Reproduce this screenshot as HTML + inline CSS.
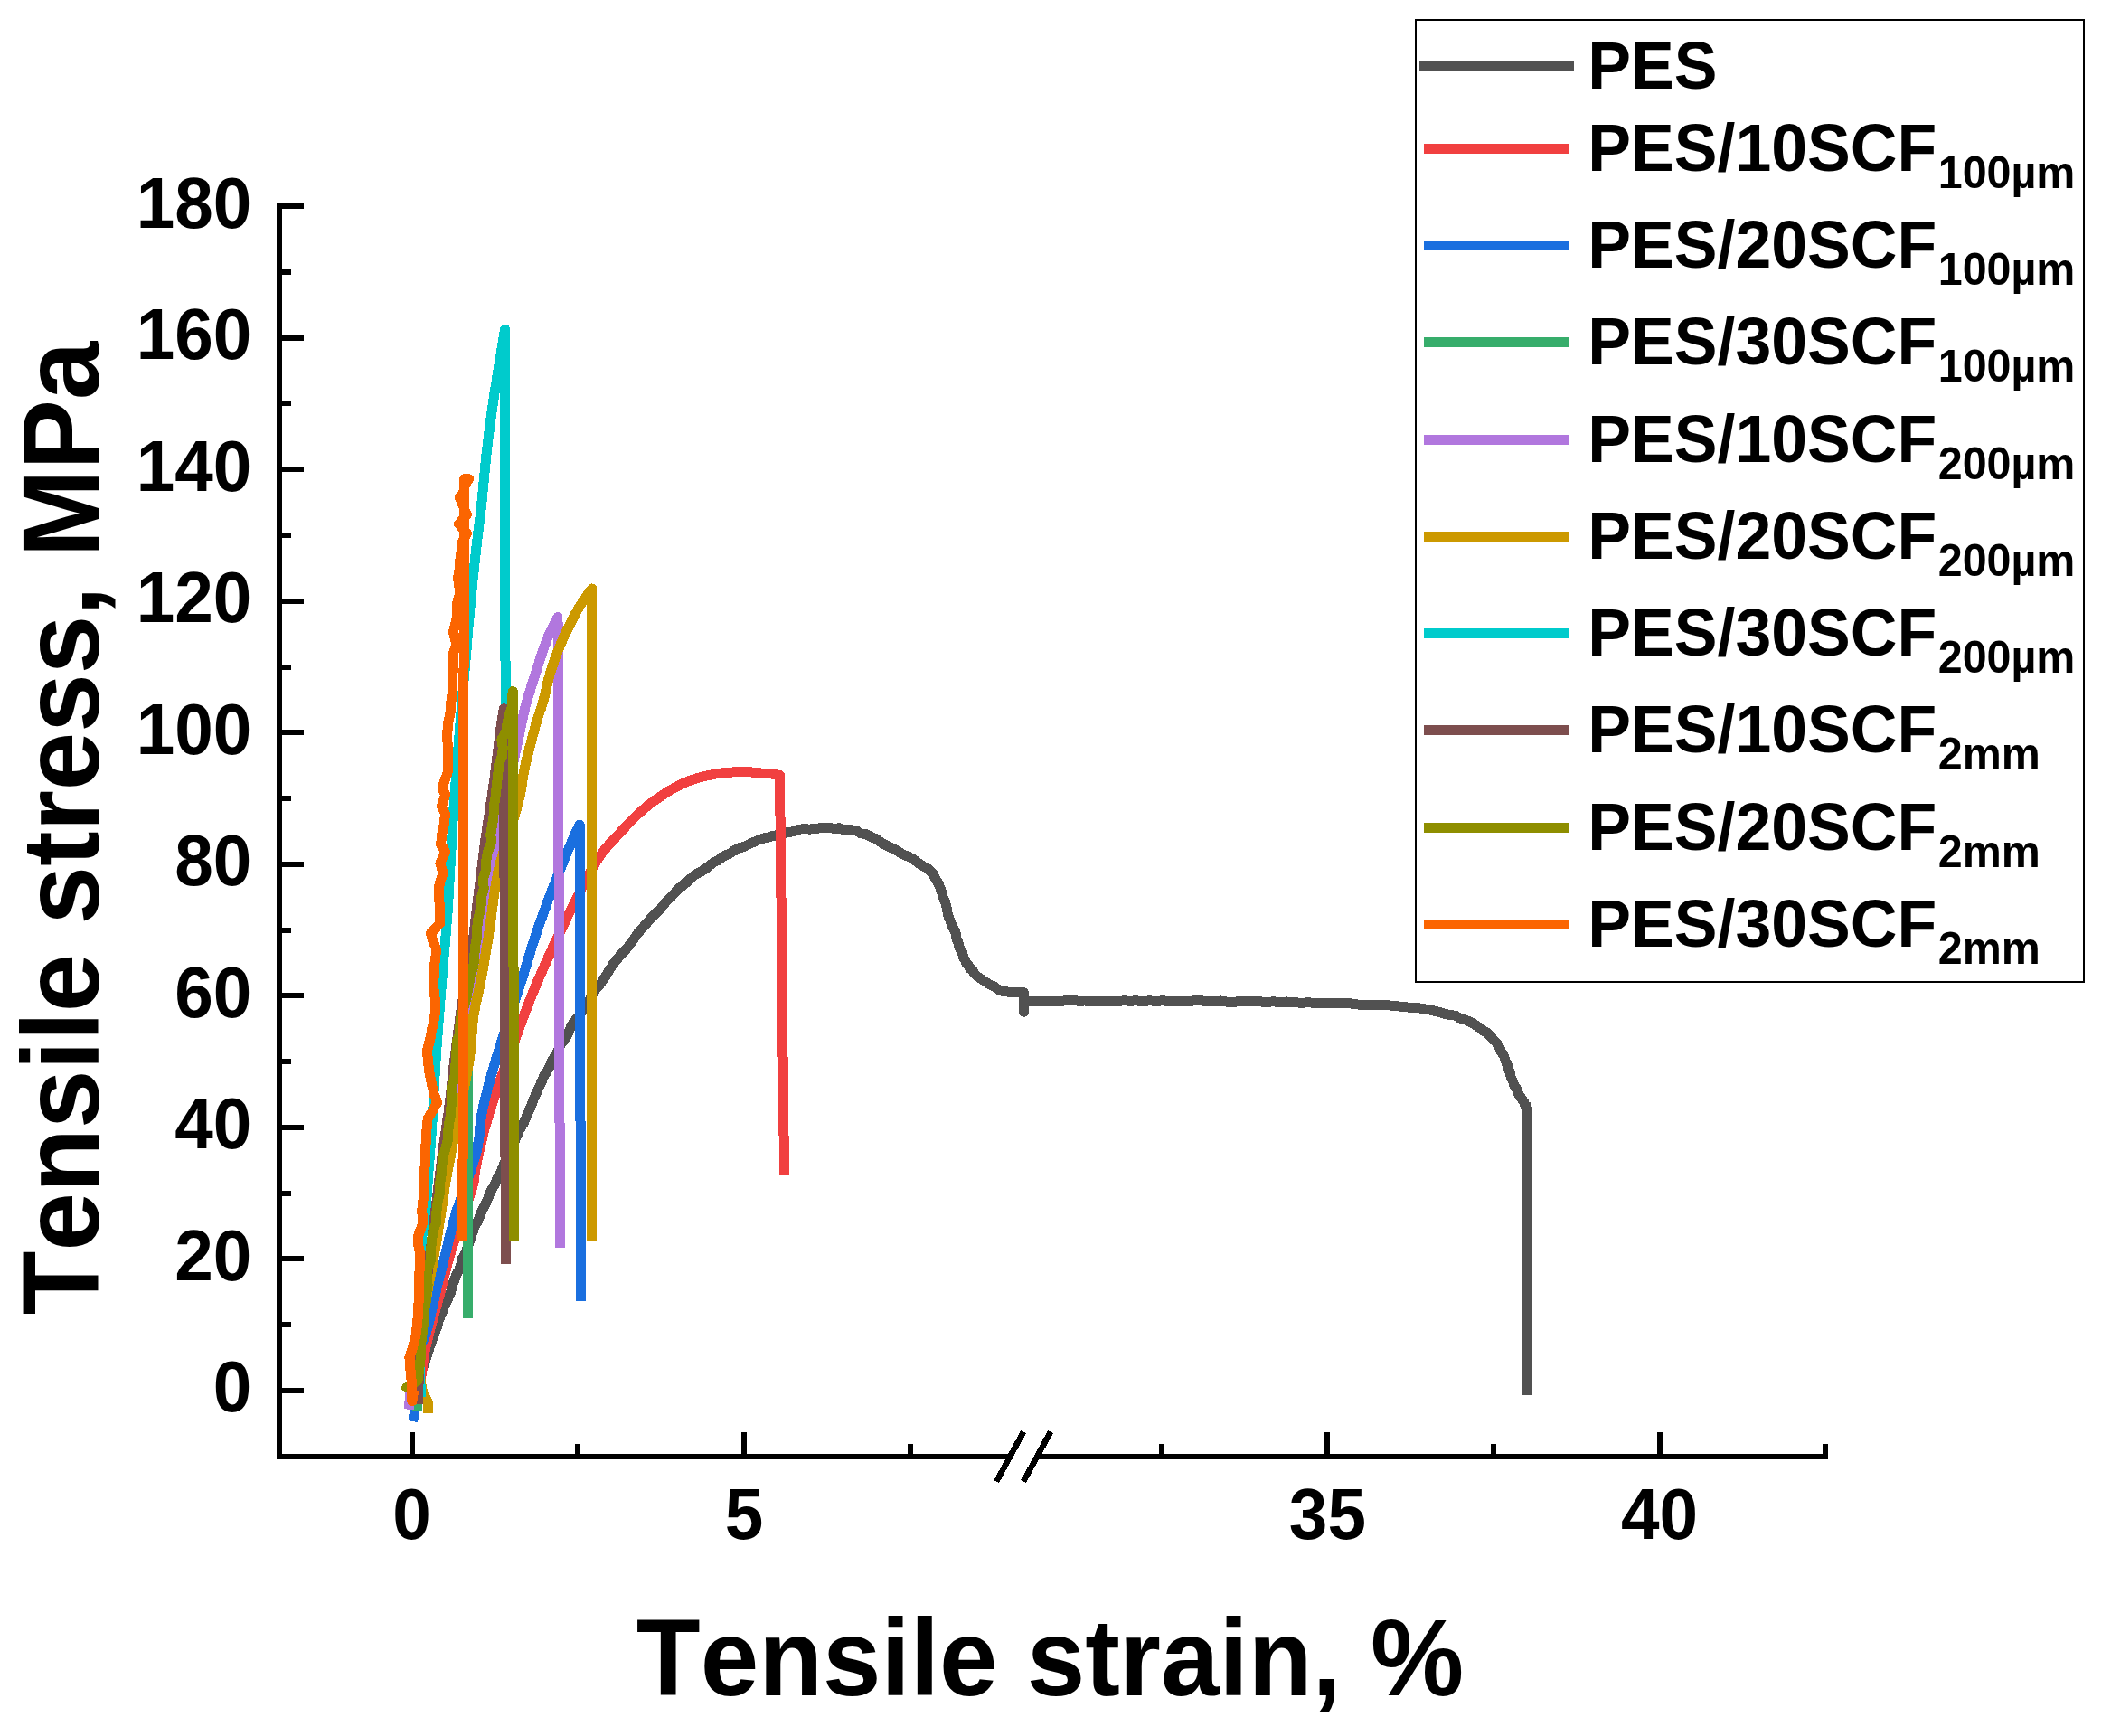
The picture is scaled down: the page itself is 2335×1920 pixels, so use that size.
<!DOCTYPE html>
<html lang="en"><head><meta charset="utf-8"><title>Tensile stress vs tensile strain</title>
<style>html,body{margin:0;padding:0;background:#fff}body{width:2335px;height:1920px;overflow:hidden}svg{display:block}text{font-family:"Liberation Sans", sans-serif;font-weight:bold;fill:#000;font-kerning:none;font-variant-ligatures:none}</style></head><body>
<svg width="2335" height="1920" viewBox="0 0 2335 1920" role="img" aria-label="Tensile stress versus tensile strain curves">
<rect x="0" y="0" width="2335" height="1920" fill="#fff"/>
<g fill="none" stroke-width="11" stroke-linejoin="round" stroke-linecap="butt" shape-rendering="crispEdges">
<polyline points="459.0,1540.0 460.0,1537.0 462.1,1530.4 465.2,1521.0 468.6,1510.3 472.0,1500.0 475.3,1489.7 479.1,1479.0 483.0,1468.9 485.5,1460.0 488.0,1453.7 490.2,1449.1 491.5,1444.6 494.0,1440.0 496.4,1434.4 498.9,1428.4 500.2,1421.9 502.7,1415.9 504.6,1409.9 507.8,1404.5 509.9,1398.5 511.4,1391.8 515.3,1385.0 518.1,1377.1 520.5,1369.2 523.2,1362.1 524.3,1357.8 525.1,1355.7 528.1,1351.5 532.9,1339.7 536.5,1332.4 539.9,1325.1 543.0,1317.5 547.0,1310.4 550.3,1303.0 554.2,1295.8 557.2,1288.2 560.9,1280.5 564.3,1272.6 568.1,1264.8 571.4,1256.9 574.3,1250.0 578.4,1243.7 581.5,1236.9 584.5,1230.0 587.6,1222.9 590.3,1215.6 593.5,1208.4 597.8,1199.3 601.8,1189.9 607.0,1181.7 610.7,1172.8 616.1,1164.2 620.4,1154.9 625.0,1148.8 628.8,1142.2 631.6,1135.1 636.2,1128.5 641.5,1122.4 645.2,1115.3 650.1,1109.4 653.7,1102.6 657.6,1095.9 663.9,1088.3 669.6,1080.2 673.6,1073.4 677.9,1066.8 685.9,1056.8 693.6,1048.6 700.1,1040.0 705.8,1031.7 711.9,1025.0 717.4,1018.5 723.2,1012.1 730.2,1005.9 735.9,998.2 742.3,992.0 747.3,986.4 751.0,982.3 754.7,980.1 756.9,977.2 760.1,975.6 762.2,972.7 764.7,971.2 767.1,968.8 770.8,966.2 776.7,963.4 782.9,958.9 789.0,954.0 795.0,951.2 798.8,947.7 802.7,945.8 806.2,944.7 809.1,942.8 811.1,940.8 813.5,941.0 815.0,939.0 818.3,937.7 823.7,936.2 829.8,933.0 836.3,930.3 841.9,927.9 846.3,926.5 850.4,926.1 853.7,924.8 857.0,924.4 859.8,923.3 862.2,922.8 864.9,922.9 868.1,921.4 872.5,920.5 877.6,919.7 882.9,917.5 888.7,916.6 895.3,917.1 902.4,916.5 909.3,915.4 915.3,915.1 920.2,916.0 924.3,916.5 928.0,915.7 931.3,917.2 934.3,917.4 936.8,917.3 939.5,917.5 943.0,917.9 947.6,919.1 952.4,921.9 958.3,922.8 963.6,925.7 969.5,927.9 974.8,932.0 980.8,935.2 986.9,938.1 992.8,941.1 998.5,945.0 1004.8,947.2 1010.0,950.3 1014.7,953.7 1019.1,956.9 1023.4,959.2 1027.0,961.2 1028.7,963.9 1030.8,964.6 1032.2,966.1 1033.3,968.8 1034.9,972.3 1037.5,976.1 1039.4,980.7 1041.2,985.7 1042.9,991.6 1045.6,997.8 1047.3,1004.4 1048.2,1010.2 1049.5,1014.7 1051.1,1018.3 1052.1,1021.7 1053.4,1025.0 1055.2,1028.0 1056.5,1030.7 1057.8,1033.7 1057.9,1037.9 1059.9,1042.6 1061.3,1048.3 1064.5,1053.4 1065.5,1058.5 1067.5,1062.1 1069.0,1065.4 1071.3,1067.7 1072.4,1070.9 1075.4,1072.6 1076.8,1075.2 1078.7,1077.6 1081.1,1080.0 1084.4,1082.1 1087.9,1084.4 1091.5,1086.8 1095.0,1089.1 1098.9,1090.5 1102.1,1092.9 1105.5,1095.0 1109.0,1096.3 1112.8,1096.5 1116.3,1097.5 1119.8,1097.8 1123.0,1097.6 1125.9,1097.9 1128.6,1097.6 1130.9,1097.9 1132.5,1097.8 1132.5,1119.3 1132.5,1107.4 1150.0,1107.3 1157.2,1107.3 1164.3,1107.5 1171.5,1107.5 1178.6,1106.8 1185.8,1106.6 1193.0,1107.1 1200.1,1107.0 1207.3,1107.7 1214.4,1107.6 1221.6,1107.4 1228.8,1107.4 1235.9,1107.5 1243.1,1106.8 1250.2,1107.2 1257.4,1106.8 1264.6,1107.9 1271.7,1106.7 1278.9,1107.7 1286.0,1106.7 1293.2,1107.6 1300.4,1107.1 1307.5,1107.2 1314.7,1107.8 1321.8,1106.6 1329.0,1106.7 1336.2,1108.0 1343.5,1107.5 1350.7,1107.0 1357.9,1108.3 1365.1,1108.4 1372.4,1107.3 1379.6,1107.8 1386.8,1107.5 1394.0,1107.9 1401.3,1108.4 1408.5,1107.8 1416.0,1108.7 1423.4,1108.0 1430.9,1108.3 1438.3,1109.3 1445.8,1108.9 1453.3,1109.1 1460.7,1109.5 1468.2,1109.5 1481.9,1109.8 1491.9,1109.6 1501.8,1111.0 1508.8,1111.6 1515.8,1111.8 1522.8,1111.7 1531.4,1111.7 1540.0,1112.1 1551.9,1113.5 1561.2,1114.4 1569.2,1114.8 1577.0,1116.1 1584.7,1117.7 1591.8,1119.4 1598.4,1121.4 1604.5,1122.5 1609.9,1123.3 1614.2,1125.8 1618.6,1126.9 1623.0,1128.9 1628.0,1131.1 1632.7,1134.2 1637.4,1137.2 1641.2,1140.5 1645.0,1142.2 1647.2,1145.0 1650.0,1147.0 1651.8,1150.2 1654.9,1152.7 1657.0,1156.2 1659.1,1159.8 1660.8,1163.9 1663.5,1167.8 1664.9,1172.7 1667.0,1177.3 1668.7,1182.1 1670.2,1186.8 1671.2,1191.6 1673.6,1196.0 1674.9,1200.8 1678.3,1205.3 1680.0,1210.9 1683.3,1215.3 1685.6,1218.9 1686.4,1221.8 1687.2,1223.5 1689.0,1223.8 1689.0,1225.0 1689.0,1240.0 1689.0,1543.4" stroke="#515151"/>
<polyline points="460.0,1545.0 461.0,1537.0 462.0,1534.2 463.4,1530.2 465.0,1525.3 466.4,1519.7 467.3,1513.8 468.0,1507.4 469.0,1499.7 470.9,1489.8 474.1,1476.8 478.3,1461.3 482.7,1445.1 486.8,1429.9 490.3,1416.5 493.4,1403.9 496.8,1391.1 500.8,1377.4 506.1,1361.3 512.3,1343.7 518.1,1327.0 522.5,1313.6 524.5,1305.7 524.9,1301.4 525.1,1297.3 526.5,1289.7 529.0,1278.1 532.2,1264.2 536.2,1248.0 541.5,1229.8 548.8,1207.7 557.8,1182.4 567.0,1157.2 575.0,1135.5 581.1,1119.2 586.1,1106.2 591.0,1094.0 597.0,1080.0 604.5,1063.2 612.8,1045.0 621.4,1026.7 629.7,1009.7 637.6,993.7 645.3,978.3 652.9,964.2 660.0,952.0 666.6,942.4 672.8,935.0 678.9,928.5 685.0,922.0 691.2,915.1 697.5,908.5 703.8,902.3 710.0,896.5 716.2,891.3 722.5,886.5 728.8,882.1 735.0,878.0 741.1,874.1 747.2,870.6 753.4,867.4 760.0,864.5 767.2,861.9 774.8,859.7 782.5,857.8 790.0,856.3 797.4,855.1 804.8,854.3 812.0,853.9 818.8,853.6 825.2,853.7 831.3,854.0 837.0,854.6 842.1,855.0 846.6,855.4 850.7,855.7 854.1,856.1 857.0,856.4 859.2,856.7 860.7,857.0 861.7,857.2 862.5,857.4 865.1,1090.0 867.5,1299.2" stroke="#F14040"/>
<polyline points="456.7,1572.0 459.7,1555.7 460.2,1549.0 460.8,1539.5 461.5,1530.0 462.2,1521.3 462.8,1512.7 463.5,1505.0 464.1,1498.7 464.7,1493.3 465.5,1488.6 466.7,1485.2 468.2,1482.5 469.8,1478.8 471.4,1473.7 473.2,1467.5 475.3,1459.2 478.1,1446.9 481.3,1432.4 484.1,1420.0 485.8,1413.4 487.1,1408.8 489.5,1399.9 493.6,1383.1 498.8,1361.8 504.8,1340.0 512.3,1317.9 520.5,1295.2 527.0,1274.7 529.9,1258.8 531.0,1245.1 533.2,1229.8 537.3,1212.1 542.4,1192.8 549.1,1169.9 558.7,1139.6 569.9,1105.7 579.0,1078.0 583.8,1062.3 586.6,1052.8 590.0,1041.9 595.0,1027.0 600.8,1010.7 607.1,993.5 614.6,974.1 622.8,953.9 629.7,937.1 634.8,925.5 638.6,917.3 641.2,912.0 642.5,1438.7" stroke="#1A6FDF"/>
<polyline points="462.0,1560.0 460.0,1540.0 470.0,1440.0 485.0,1320.0 500.0,1210.0 512.0,1130.0 517.5,1090.0 517.5,1457.6" stroke="#37AD6B"/>
<polyline points="452.0,1558.7 454.0,1540.0 459.7,1504.1 467.9,1452.6 476.0,1400.0 483.3,1348.9 490.5,1296.7 497.0,1250.0 502.5,1211.9 507.4,1179.3 512.0,1150.0 516.6,1123.3 520.9,1099.9 524.5,1080.0 526.8,1065.9 528.3,1055.4 530.5,1041.9 533.8,1022.8 537.6,1000.8 541.8,977.4 546.1,953.4 550.7,928.0 556.0,900.0 563.1,865.5 570.9,828.5 577.0,800.0 579.8,786.9 580.8,782.3 582.5,776.5 585.7,765.8 589.4,753.8 593.3,741.9 597.1,730.0 601.0,718.2 604.9,707.4 609.3,697.5 613.8,688.7 617.0,682.6 619.5,1380.4" stroke="#B177DE"/>
<polyline points="473.1,1562.5 473.1,1551.0 467.0,1537.5 463.7,1518.0 463.9,1513.5 464.1,1506.9 464.5,1500.0 465.0,1493.5 465.7,1486.6 466.5,1478.8 467.4,1469.6 468.3,1459.5 469.5,1449.4 471.0,1439.3 472.7,1429.1 474.3,1420.0 475.5,1414.1 476.6,1409.3 478.3,1400.0 481.3,1382.1 484.9,1359.7 488.0,1340.0 489.9,1327.3 491.3,1317.3 493.4,1304.6 496.7,1287.0 500.6,1266.7 504.9,1244.7 510.0,1219.8 515.4,1193.2 519.6,1169.9 521.5,1152.7 522.3,1138.8 523.6,1124.9 526.3,1110.3 529.6,1095.7 532.8,1080.0 535.8,1063.0 538.8,1045.0 541.8,1025.8 544.5,1005.4 547.4,983.8 551.5,961.3 558.4,936.5 566.6,910.8 573.2,888.7 576.5,873.2 578.2,861.2 580.5,848.4 584.5,831.9 589.0,814.6 593.0,800.0 595.9,790.7 598.2,784.2 600.6,776.5 603.3,765.8 606.0,753.8 609.3,741.9 613.1,730.4 617.5,718.9 622.3,707.4 627.9,695.4 634.0,683.4 639.8,672.8 645.5,663.8 650.9,656.2 654.7,651.0 654.5,1372.6" stroke="#CC9900"/>
<polyline points="465.7,1545.0 464.5,1520.0 465.0,1450.0 466.5,1370.0 471.0,1340.0 471.5,1331.7 472.3,1319.5 473.3,1304.6 474.6,1287.6 476.2,1267.8 477.8,1244.7 479.5,1216.4 481.3,1184.8 483.2,1154.9 485.2,1128.7 487.2,1104.1 489.2,1080.0 491.2,1056.0 493.2,1032.5 495.0,1009.7 496.4,987.8 497.5,966.5 498.7,945.2 500.0,924.3 501.3,903.3 502.9,880.6 504.8,854.1 507.0,825.8 509.0,800.0 510.7,779.4 512.3,761.2 514.0,741.9 515.9,719.7 517.8,696.2 519.9,672.8 522.3,648.8 524.8,624.9 527.1,603.7 529.0,587.9 530.7,574.8 532.5,560.0 534.3,541.3 536.2,520.8 538.3,500.0 540.7,479.9 543.4,459.6 546.5,438.0 550.7,411.5 555.3,383.8 558.6,364.2 558.5,700.0 560.0,790.0" stroke="#00CBCC"/>
<polyline points="462.0,1553.0 463.5,1520.0 466.0,1480.0 469.5,1440.0 474.0,1400.0 482.2,1334.6 489.5,1274.7 496.2,1229.8 503.0,1169.9 510.0,1117.4 523.1,1041.9 528.7,993.5 536.8,929.0 546.5,864.5 554.5,800.0 557.4,783.7 559.4,1397.7" stroke="#7D4E4E"/>
<polyline points="447.5,1539.0 450.0,1534.5 462.0,1527.2 465.3,1501.7 465.4,1488.2 467.2,1474.8 468.5,1463.6 469.1,1452.3 471.0,1441.1 471.8,1429.9 473.1,1420.9 472.3,1411.9 473.1,1402.9 476.6,1393.9 476.5,1384.9 477.3,1373.7 478.8,1362.5 482.9,1351.2 482.9,1340.0 484.0,1329.9 486.4,1319.9 486.4,1309.8 488.1,1299.8 488.9,1289.7 489.5,1280.3 492.7,1271.0 495.1,1261.6 495.6,1252.2 496.6,1242.8 498.3,1233.5 499.0,1224.2 499.4,1214.8 499.3,1203.6 502.8,1192.3 503.6,1181.1 504.6,1169.9 505.0,1160.9 505.2,1151.9 508.9,1142.9 508.8,1133.9 509.9,1124.9 513.1,1113.7 516.2,1102.5 518.2,1091.2 520.0,1080.0 523.7,1069.0 524.8,1058.0 525.4,1047.3 527.7,1036.5 527.7,1025.8 529.0,1015.0 532.0,1004.3 532.1,993.5 535.2,982.8 534.5,972.0 537.7,961.3 537.9,951.6 539.5,941.9 543.3,932.3 542.9,922.6 544.5,912.9 546.0,902.8 546.1,892.8 547.9,882.7 549.0,872.6 552.1,843.7 555.5,836.8 556.2,826.4 554.8,818.1 559.7,809.1 560.7,802.2 562.1,795.3 564.1,788.4 566.5,781.5 566.8,770.0 567.2,764.7 568.8,1372.6" stroke="#8E8E00"/>
<polyline points="458.0,1537.0 455.9,1549.7 455.2,1527.2 453.7,1512.2 452.9,1501.0 456.7,1489.8 460.4,1474.8 461.4,1464.8 462.4,1454.8 462.7,1444.8 463.5,1434.8 464.0,1424.9 463.4,1414.9 464.1,1404.9 464.7,1394.9 464.2,1384.9 462.6,1376.0 462.7,1367.0 467.9,1352.0 466.8,1340.0 467.3,1331.6 468.7,1323.2 468.8,1314.8 469.8,1306.5 468.9,1298.1 470.2,1289.7 470.5,1280.3 470.5,1271.0 471.4,1261.6 471.7,1252.2 473.2,1237.3 478.6,1228.3 483.7,1219.3 479.8,1209.5 477.7,1199.8 475.3,1188.6 473.9,1177.4 472.4,1162.4 476.2,1147.4 477.7,1138.4 479.9,1129.4 481.4,1119.7 481.4,1110.0 480.8,1099.5 479.2,1089.0 480.2,1080.0 480.2,1069.5 482.0,1058.9 482.1,1048.4 478.6,1040.3 476.5,1032.3 486.9,1021.0 486.1,1009.7 486.1,1001.6 485.9,992.0 485.3,982.3 487.1,974.2 490.2,966.1 486.9,954.8 492.6,941.9 487.7,933.9 488.5,923.4 491.0,912.9 492.6,900.0 488.5,891.9 492.6,879.0 489.7,872.6 491.0,866.1 495.0,854.8 495.5,848.4 495.0,837.1 495.8,827.8 494.7,818.5 494.9,809.3 495.5,800.0 498.1,788.2 498.9,776.5 500.4,766.1 500.6,755.8 500.4,747.6 501.8,739.3 501.3,731.1 501.4,722.9 504.9,712.6 501.4,698.7 503.8,690.0 505.5,681.4 505.3,667.6 509.2,655.5 507.4,646.9 506.6,638.2 508.3,629.2 508.7,620.1 510.1,611.0 510.1,602.0 516.3,589.9 507.5,579.5 516.3,569.1 512.7,560.5 508.4,550.1 513.3,544.0 513.6,529.7 518.5,529.7 513.5,538.0 512.4,1000.0 511.9,1372.6" stroke="#FB6501"/>
</g>
<g fill="#000" shape-rendering="crispEdges">
<rect x="306" y="225" width="6" height="1389"/>
<rect x="306" y="1608" width="812" height="6"/>
<rect x="1146" y="1608" width="876" height="6"/>
<rect x="306" y="1535" width="30" height="6"/>
<rect x="306" y="1462" width="16" height="6"/>
<rect x="306" y="1389" width="30" height="6"/>
<rect x="306" y="1317" width="16" height="6"/>
<rect x="306" y="1244" width="30" height="6"/>
<rect x="306" y="1171" width="16" height="6"/>
<rect x="306" y="1098" width="30" height="6"/>
<rect x="306" y="1026" width="16" height="6"/>
<rect x="306" y="953" width="30" height="6"/>
<rect x="306" y="880" width="16" height="6"/>
<rect x="306" y="807" width="30" height="6"/>
<rect x="306" y="735" width="16" height="6"/>
<rect x="306" y="662" width="30" height="6"/>
<rect x="306" y="589" width="16" height="6"/>
<rect x="306" y="516" width="30" height="6"/>
<rect x="306" y="443" width="16" height="6"/>
<rect x="306" y="371" width="30" height="6"/>
<rect x="306" y="298" width="16" height="6"/>
<rect x="306" y="225" width="30" height="6"/>
<rect x="453" y="1584" width="6" height="30"/>
<rect x="636" y="1597" width="6" height="17"/>
<rect x="820" y="1584" width="6" height="30"/>
<rect x="1004" y="1597" width="6" height="17"/>
<rect x="1282" y="1597" width="6" height="17"/>
<rect x="1465" y="1584" width="6" height="30"/>
<rect x="1649" y="1597" width="6" height="17"/>
<rect x="1833" y="1584" width="6" height="30"/>
<rect x="2016" y="1597" width="6" height="17"/>
</g>
<g stroke="#000" stroke-width="6.6" shape-rendering="crispEdges">
<line x1="1132.2" y1="1583.5" x2="1102.2" y2="1638.5"/>
<line x1="1162.1" y1="1583.5" x2="1132.1" y2="1638.5"/>
</g>
<text transform="translate(278.3,1561.3) scale(1,1.040)" font-size="76.5" text-anchor="end">0</text>
<text transform="translate(278.3,1415.8) scale(1,1.040)" font-size="76.5" text-anchor="end">20</text>
<text transform="translate(278.3,1270.2) scale(1,1.040)" font-size="76.5" text-anchor="end">40</text>
<text transform="translate(278.3,1124.7) scale(1,1.040)" font-size="76.5" text-anchor="end">60</text>
<text transform="translate(278.3,979.2) scale(1,1.040)" font-size="76.5" text-anchor="end">80</text>
<text transform="translate(278.3,833.6) scale(1,1.040)" font-size="76.5" text-anchor="end">100</text>
<text transform="translate(278.3,688.1) scale(1,1.040)" font-size="76.5" text-anchor="end">120</text>
<text transform="translate(278.3,542.6) scale(1,1.040)" font-size="76.5" text-anchor="end">140</text>
<text transform="translate(278.3,397.0) scale(1,1.040)" font-size="76.5" text-anchor="end">160</text>
<text transform="translate(278.3,251.5) scale(1,1.040)" font-size="76.5" text-anchor="end">180</text>
<text transform="translate(455.6,1702.3) scale(1,1.040)" font-size="76.5" text-anchor="middle">0</text>
<text transform="translate(823.0,1702.3) scale(1,1.040)" font-size="76.5" text-anchor="middle">5</text>
<text transform="translate(1468.4,1702.3) scale(1,1.040)" font-size="76.5" text-anchor="middle">35</text>
<text transform="translate(1835.6,1702.3) scale(1,1.040)" font-size="76.5" text-anchor="middle">40</text>
<text transform="translate(1161.5,1875.0) scale(1,1.040)" font-size="116" text-anchor="middle">Tensile strain, %</text>
<text transform="translate(109.0,916.0) rotate(-90) scale(1,1.040)" font-size="116" text-anchor="middle">Tensile stress, MPa</text>
<rect x="1566" y="22" width="739" height="1064" fill="#fff" stroke="#000" stroke-width="2" shape-rendering="crispEdges"/>
<g shape-rendering="crispEdges">
<rect x="1570" y="68" width="171" height="11" fill="#515151"/>
<rect x="1575" y="159" width="161" height="11" fill="#F14040"/>
<rect x="1575" y="266" width="161" height="11" fill="#1A6FDF"/>
<rect x="1575" y="373" width="161" height="11" fill="#37AD6B"/>
<rect x="1575" y="481" width="161" height="11" fill="#B177DE"/>
<rect x="1575" y="588" width="161" height="11" fill="#CC9900"/>
<rect x="1575" y="695" width="161" height="11" fill="#00CBCC"/>
<rect x="1575" y="802" width="161" height="11" fill="#7D4E4E"/>
<rect x="1575" y="910" width="161" height="11" fill="#8E8E00"/>
<rect x="1575" y="1017" width="161" height="11" fill="#FB6501"/>
</g>
<text transform="translate(1756.3,97.8) scale(1,1.040)" font-size="71.6" text-anchor="start">PES</text>
<text transform="translate(1756.3,188.8) scale(1,1.040)" font-size="71.6" text-anchor="start">PES/10SCF<tspan font-size="48.4" dx="1.5" dy="18.4">100µm</tspan></text>
<text transform="translate(1756.3,296.0) scale(1,1.040)" font-size="71.6" text-anchor="start">PES/20SCF<tspan font-size="48.4" dx="1.5" dy="18.4">100µm</tspan></text>
<text transform="translate(1756.3,403.3) scale(1,1.040)" font-size="71.6" text-anchor="start">PES/30SCF<tspan font-size="48.4" dx="1.5" dy="18.4">100µm</tspan></text>
<text transform="translate(1756.3,510.5) scale(1,1.040)" font-size="71.6" text-anchor="start">PES/10SCF<tspan font-size="48.4" dx="1.5" dy="18.4">200µm</tspan></text>
<text transform="translate(1756.3,617.8) scale(1,1.040)" font-size="71.6" text-anchor="start">PES/20SCF<tspan font-size="48.4" dx="1.5" dy="18.4">200µm</tspan></text>
<text transform="translate(1756.3,725.0) scale(1,1.040)" font-size="71.6" text-anchor="start">PES/30SCF<tspan font-size="48.4" dx="1.5" dy="18.4">200µm</tspan></text>
<text transform="translate(1756.3,832.3) scale(1,1.040)" font-size="71.6" text-anchor="start">PES/10SCF<tspan font-size="48.4" dx="1.5" dy="18.4">2mm</tspan></text>
<text transform="translate(1756.3,939.5) scale(1,1.040)" font-size="71.6" text-anchor="start">PES/20SCF<tspan font-size="48.4" dx="1.5" dy="18.4">2mm</tspan></text>
<text transform="translate(1756.3,1046.8) scale(1,1.040)" font-size="71.6" text-anchor="start">PES/30SCF<tspan font-size="48.4" dx="1.5" dy="18.4">2mm</tspan></text>
</svg></body></html>
